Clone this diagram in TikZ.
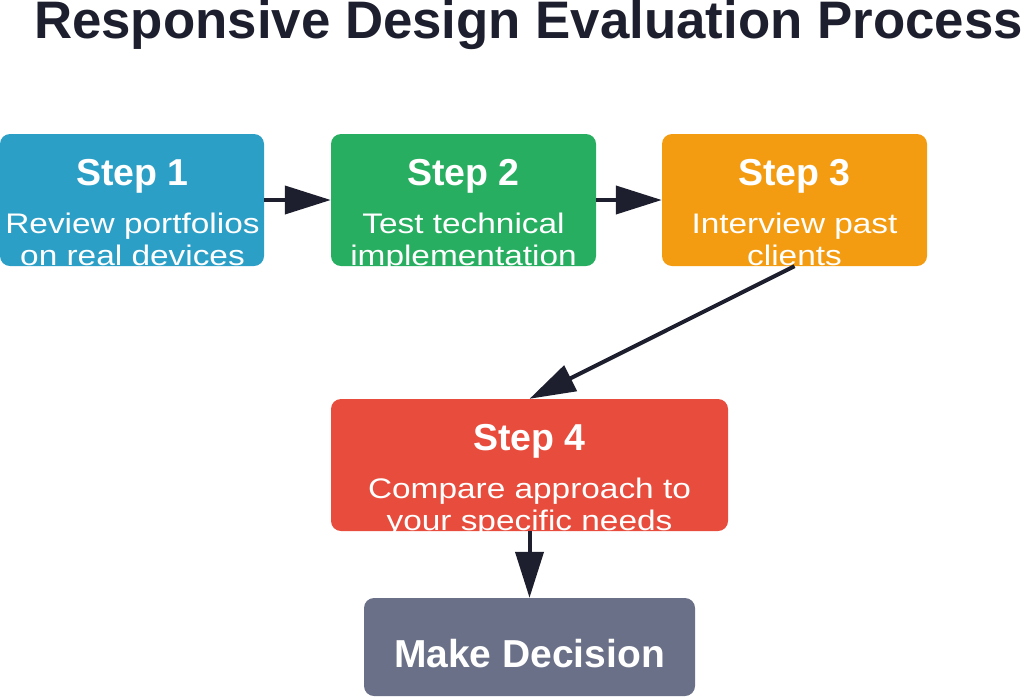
\documentclass[tikz,border=0pt]{standalone}
\usepackage{fontspec}
\usepackage{graphicx}
\setmainfont{Liberation Sans}
\usetikzlibrary{arrows.meta}
\definecolor{cone}{HTML}{2C9FC6}
\definecolor{ctwo}{HTML}{27AE60}
\definecolor{cthree}{HTML}{F39C12}
\definecolor{cfour}{HTML}{E74C3C}
\definecolor{cdec}{HTML}{6A7088}
\definecolor{ink}{HTML}{1E1F2E}
\newcommand\widetxt[1]{\scalebox{1.18}[1]{#1}}
\begin{document}
\begin{tikzpicture}[x=1pt,y=-1pt,
  box/.style={rounded corners=10pt, inner sep=0pt, draw=none},
  lbl/.style={text=white, font=\fontsize{37.5}{42}\selectfont\bfseries, inner sep=0pt, anchor=base},
  body/.style={text=white, font=\fontsize{28.3}{32}\selectfont, inner sep=0pt, anchor=base},
  conn/.style={draw=ink, line width=4pt, -{Triangle[length=46pt,width=28pt]}}]
\useasboundingbox (0,0) rectangle (1024,697);
\node[text=ink, font=\fontsize{52.8}{60}\selectfont\bfseries, inner sep=0pt, anchor=base] (title) at (528.5,38.5) {Responsive Design Evaluation Process};

\node[box, fill=cone, minimum width=264pt, minimum height=132pt] (s1) at (132,200) {};
\node[box, fill=ctwo, minimum width=265pt, minimum height=132pt] (s2) at (463.5,200) {};
\node[box, fill=cthree, minimum width=265pt, minimum height=132pt] (s3) at (794.5,200) {};
\node[box, fill=cfour, minimum width=397pt, minimum height=132pt] (s4) at (529.5,465) {};
\node[box, fill=cdec, minimum width=331pt, minimum height=98pt] (dec) at (529.5,647) {};

\begin{scope}
\clip (s1.south west) rectangle (s1.north east);
\node[lbl] (s1l) at (132.5,185.5) {Step 1};
\node[body] (s1a) at (132.5,233) {\widetxt{Review portfolios}};
\node[body] (s1b) at (132.5,265) {\widetxt{on real devices}};
\end{scope}
\begin{scope}
\clip (s2.south west) rectangle (s2.north east);
\node[lbl] (s2l) at (463.5,185.5) {Step 2};
\node[body] (s2a) at (463.5,233) {\widetxt{Test technical}};
\node[body] (s2b) at (463.5,265) {\widetxt{implementation}};
\end{scope}
\begin{scope}
\clip (s3.south west) rectangle (s3.north east);
\node[lbl] (s3l) at (794.5,185.5) {Step 3};
\node[body] (s3a) at (794.5,233) {\widetxt{Interview past}};
\node[body] (s3b) at (794.5,265) {\widetxt{clients}};
\end{scope}
\begin{scope}
\clip (s4.south west) rectangle (s4.north east);
\node[lbl] (s4l) at (529.5,450.5) {Step 4};
\node[body] (s4a) at (529.5,498) {\widetxt{Compare approach to}};
\node[body] (s4b) at (529.5,530) {\widetxt{your specific needs}};
\end{scope}
\node[text=white, font=\fontsize{39}{44}\selectfont\bfseries, inner sep=0pt, anchor=base] (decl) at (529.5,667) {Make Decision};

\draw[conn] (s1.east) -- (s2.west);
\draw[conn] (s2.east) -- (s3.west);
\draw[conn] (s3.south) -- (s4.north);
\draw[conn] (s4.south) -- (dec.north);
\end{tikzpicture}
\end{document}
